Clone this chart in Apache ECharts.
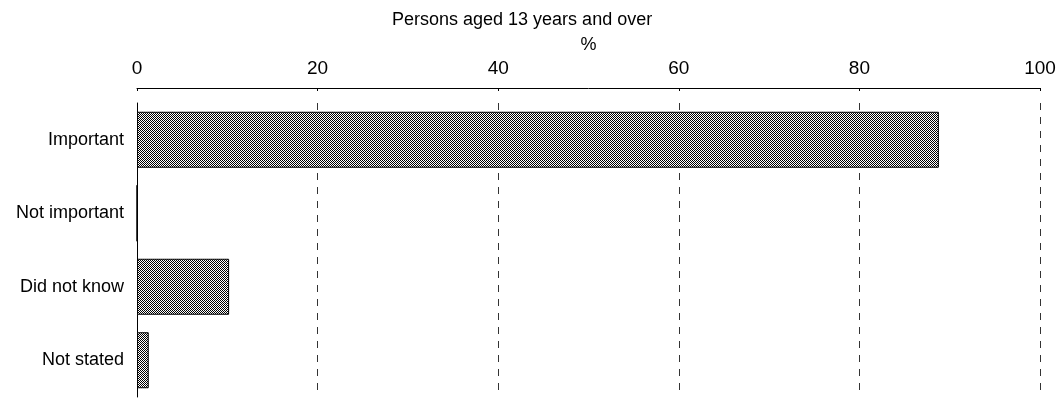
<!DOCTYPE html>
<html>
<head>
<meta charset="utf-8">
<script src="https://cdn.jsdelivr.net/npm/echarts@6/dist/echarts.min.js"></script>
<style>
html,body{margin:0;padding:0;background:#fff;}
#chart{width:1056px;height:405px;}
</style>
</head>
<body>
<div id="chart"></div>
<script>
const categories = ['Important', 'Not important', 'Did not know', 'Not stated'];
const values = [88.8, 0, 10.2, 1.3];
const tickValues = [0, 20, 40, 60, 80, 100];
const titleText = 'Persons aged 13 years and over';
const unitText = '%';

function makePattern() {
  const c = document.createElement('canvas');
  c.width = 4; c.height = 4;
  const ctx = c.getContext('2d');
  ctx.fillStyle = '#fff';
  ctx.fillRect(0, 0, 4, 4);
  ctx.fillStyle = '#000';
  for (let y = 0; y < 4; y++) {
    for (let x = 0; x < 4; x++) {
      if ((x + y) % 2 === 0) ctx.fillRect(x, y, 1, 1);
    }
  }
  return c;
}

const font = "'Liberation Sans', Arial, Helvetica, sans-serif";
const chart = echarts.init(document.getElementById('chart'), null, {renderer: 'canvas'});
chart.setOption({
  animation: false,
  backgroundColor: '#fff',
  textStyle: {fontFamily: font},
  title: {
    text: titleText,
    left: 387,
    top: 6,
    textStyle: {fontSize: 18, fontWeight: 'normal', color: '#000', fontFamily: font}
  },
  grid: {left: 137, right: 16, top: 103, bottom: 8, containLabel: false, outerBoundsMode: 'none'},
  xAxis: {
    type: 'value',
    position: 'top',
    offset: 15,
    min: tickValues[0],
    max: tickValues[tickValues.length - 1],
    interval: 20,
    name: unitText,
    nameLocation: 'middle',
    nameGap: 34,
    nameTextStyle: {fontSize: 18, color: '#000', fontFamily: font},
    axisLine: {show: true, lineStyle: {color: '#000', width: 1}},
    axisTick: {show: true, inside: true, length: 3, lineStyle: {color: '#000'}},
    axisLabel: {fontSize: 19, color: '#000', margin: 10, fontFamily: font},
    splitLine: {show: true, lineStyle: {color: '#333', width: 1, type: [7, 7]}}
  },
  yAxis: {
    type: 'category',
    inverse: true,
    data: categories,
    axisLine: {show: true, lineStyle: {color: '#000', width: 1}},
    axisTick: {show: false},
    axisLabel: {fontSize: 18, color: '#000', margin: 13, fontFamily: font}
  },
  series: [{
    type: 'bar',
    data: values,
    barWidth: 56,
    itemStyle: {
      color: {image: makePattern(), repeat: 'repeat'},
      borderColor: '#000',
      borderWidth: 1
    }
  }]
});
</script>
</body>
</html>
